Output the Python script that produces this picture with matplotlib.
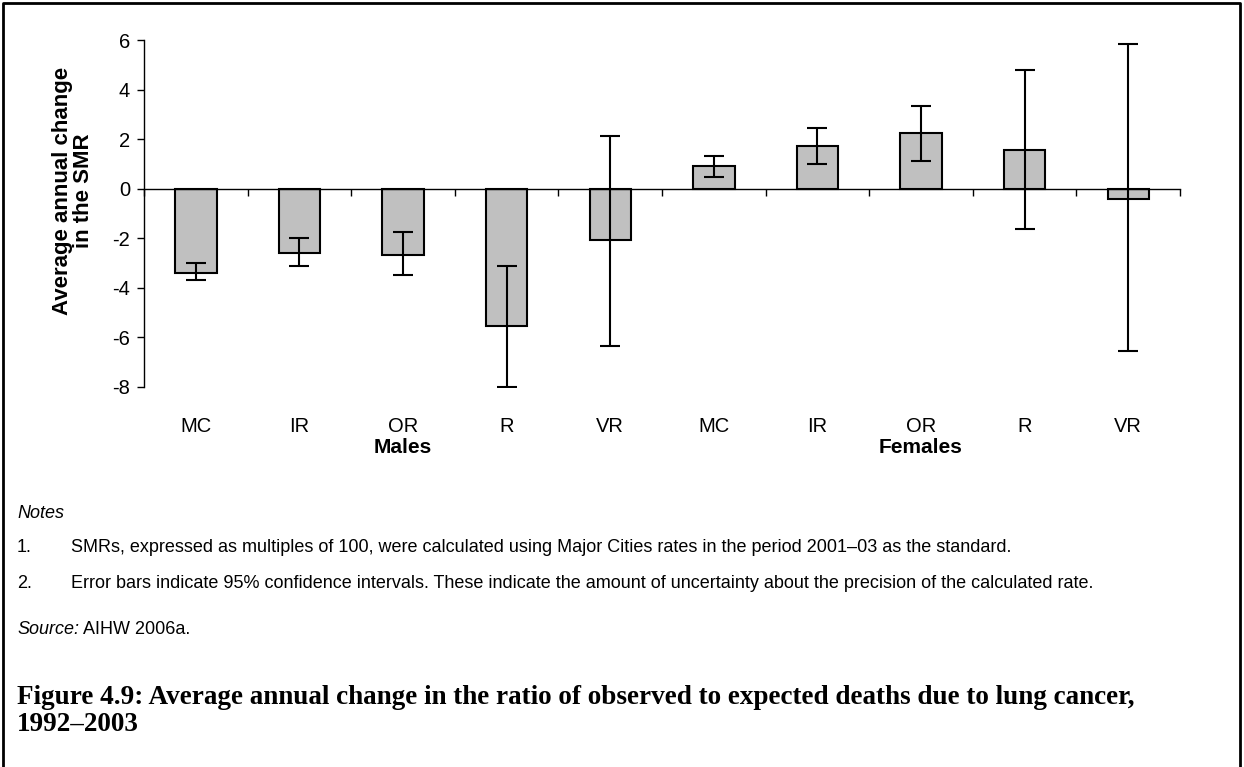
import matplotlib.pyplot as plt
import numpy as np
from matplotlib.lines import Line2D

# Podaci: prosječna godišnja promjena SMR-a s 95% intervalima pouzdanosti
categories = ['MC', 'IR', 'OR', 'R', 'VR', 'MC', 'IR', 'OR', 'R', 'VR']
groups = ['Males', 'Females']
values = [-3.39, -2.58, -2.67, -5.56, -2.09, 0.90, 1.71, 2.26, 1.55, -0.40]
ci_low = [-3.70, -3.14, -3.47, -8.00, -6.37, 0.48, 0.98, 1.13, -1.62, -6.54]
ci_high = [-2.99, -2.01, -1.76, -3.14, 2.11, 1.30, 2.44, 3.32, 4.77, 5.83]

plt.rcParams['font.family'] = ['Liberation Sans', 'DejaVu Sans']
plt.rcParams['axes.unicode_minus'] = False

fig = plt.figure(figsize=(12.44, 7.67), dpi=100)
ax = fig.add_axes([0.1158, 0.4958, 0.8328, 0.452])

x = np.arange(len(categories))
vals = np.array(values)
yerr = [vals - np.array(ci_low), np.array(ci_high) - vals]
ax.bar(x, vals, width=0.4, color='#c0c0c0', edgecolor='black', linewidth=1.5, zorder=2)
ax.errorbar(x, vals, yerr=yerr, fmt='none', ecolor='black', elinewidth=1.5,
            capsize=7, capthick=1.5, zorder=3)

ax.set_xlim(-0.5, len(categories) - 0.5)
ax.set_ylim(-8, 6)
ax.set_yticks(np.arange(-8, 7, 2))
ax.tick_params(axis='y', direction='out', length=5, labelsize=14.5, pad=5, width=1)

for s in ['top', 'right']:
    ax.spines[s].set_visible(False)
ax.spines['left'].set_linewidth(1)
ax.spines['bottom'].set_position(('data', 0))
ax.spines['bottom'].set_linewidth(1)
ax.set_xticks(np.arange(-0.5, len(categories), 1.0))
ax.tick_params(axis='x', direction='out', length=5, labelbottom=False, width=1)

# kategorijske oznake ispod grafa
sec = ax.secondary_xaxis(0)
sec.set_xticks(x, categories)
sec.tick_params(length=0, labelsize=14.5, pad=22)
sec.spines['bottom'].set_visible(False)

for i, g in enumerate(groups):
    ax.text(i * 5 + 2, -0.175, g, transform=ax.get_xaxis_transform(),
            ha='center', va='center', fontsize=15, fontweight='bold')

ax.set_ylabel('Average annual change\nin the SMR', fontsize=16, fontweight='bold',
              linespacing=1.05)
ax.yaxis.set_label_coords(-0.048, 0.565)

# Bilješke i naslov
fs = 13
fig.text(0.0137, 1 - 514 / 767, 'Notes', fontsize=fs, style='italic', va='center')
fig.text(0.0137, 1 - 548 / 767, '1.', fontsize=fs, va='center')
fig.text(0.057, 1 - 548 / 767,
         'SMRs, expressed as multiples of 100, were calculated using Major Cities rates in the period 2001\u201303 as the standard.',
         fontsize=fs, va='center')
fig.text(0.0137, 1 - 583 / 767, '2.', fontsize=fs, va='center')
fig.text(0.057, 1 - 583 / 767,
         'Error bars indicate 95% confidence intervals. These indicate the amount of uncertainty about the precision of the calculated rate.',
         fontsize=fs, va='center')
src = fig.text(0.0137, 1 - 630 / 767, 'Source:', fontsize=fs, style='italic', va='center')
ax.annotate('AIHW 2006a.', xy=(1, 0.5), xycoords=src, xytext=(3, 0),
            textcoords='offset points', fontsize=fs, va='center', annotation_clip=False)
fig.text(0.0137, 1 - 711 / 767,
         'Figure 4.9: Average annual change in the ratio of observed to expected deaths due to lung cancer,\n1992\u20132003',
         fontsize=19.5, fontweight='bold', family='Liberation Serif', va='center', linespacing=1.15)

# okvir oko slike (lijevo, gore, desno)
fig.add_artist(Line2D([0.0028, 0.0028, 0.9966, 0.9966], [0, 0.996, 0.996, 0],
                      transform=fig.transFigure, color='black', linewidth=2))

plt.savefig('out.png', dpi=100)
